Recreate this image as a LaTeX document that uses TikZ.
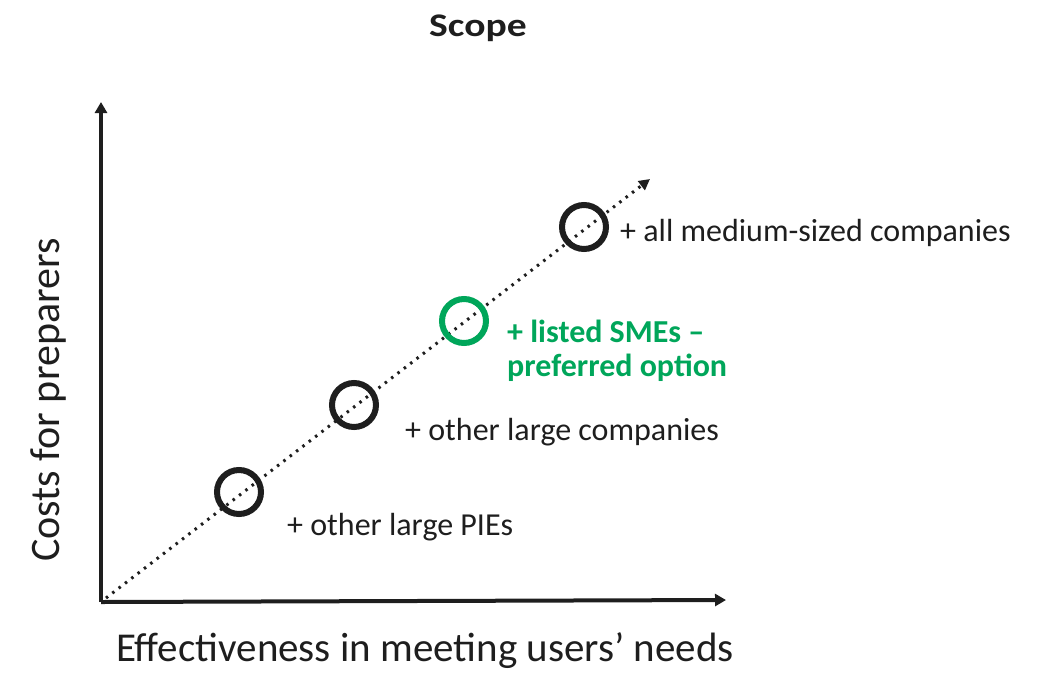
\documentclass[tikz,border=0pt]{standalone}
\usepackage{fontspec}
\setmainfont{Carlito}
\usetikzlibrary{arrows.meta}
\definecolor{okgreen}{RGB}{0,166,90}
\definecolor{ink}{RGB}{30,30,30}
\begin{document}
\begin{tikzpicture}[x=1pt,y=-1pt,
  axis/.style={line width=4pt,-{Triangle[length=11pt,width=12pt]}},
  diag/.style={line width=3pt,dash pattern=on 2.5pt off 5.5pt,-{Triangle[length=11pt,width=11pt]}},
  ring/.style={circle,draw=ink,line width=6pt,minimum size=44pt,inner sep=0pt},
  lab/.style={anchor=west,inner sep=0pt,font=\fontsize{32}{34}\selectfont,text=ink},
  glab/.style={anchor=west,inner sep=0pt,font=\bfseries\fontsize{32}{34}\selectfont,text=okgreen,align=left}]
\useasboundingbox (0,0) rectangle (1048,675);
\coordinate (O) at (101,602);
\coordinate (Ytop) at (101,102);
\coordinate (Xend) at (726,600);
\coordinate (D0) at (106,598);
\coordinate (Dend) at (650,179);
\draw[axis,draw=ink,fill=ink] (O) -- (Ytop);
\draw[axis,draw=ink,fill=ink] (O) -- (Xend);
\draw[diag,draw=ink] (D0) -- (Dend);
\node[ring] (c1) at (239,492) {};
\node[ring] (c2) at (354,405) {};
\node[ring,draw=okgreen] (c3) at (464,321) {};
\node[ring] (c4) at (584,227) {};
\node[lab] (l1) at (287,527) {+ other large PIEs};
\node[lab] (l2) at (405,432) {+ other large companies};
\node[glab] (l3) at (507,351) {+ listed SMEs –\\preferred option};
\node[lab] (l4) at (620,233) {+ all medium-sized companies};
\node[font=\bfseries\fontsize{33}{38}\selectfont,xscale=1.2,text=ink] (title) at (478,28) {Scope};
\node[font=\fontsize{42}{48}\selectfont,rotate=90,text=ink] (ylab) at (48,400) {Costs for preparers};
\node[font=\fontsize{41}{48}\selectfont,text=ink,anchor=base,inner sep=0pt] (xlab) at (425,661) {Effectiveness in meeting users’ needs};
\end{tikzpicture}
\end{document}
